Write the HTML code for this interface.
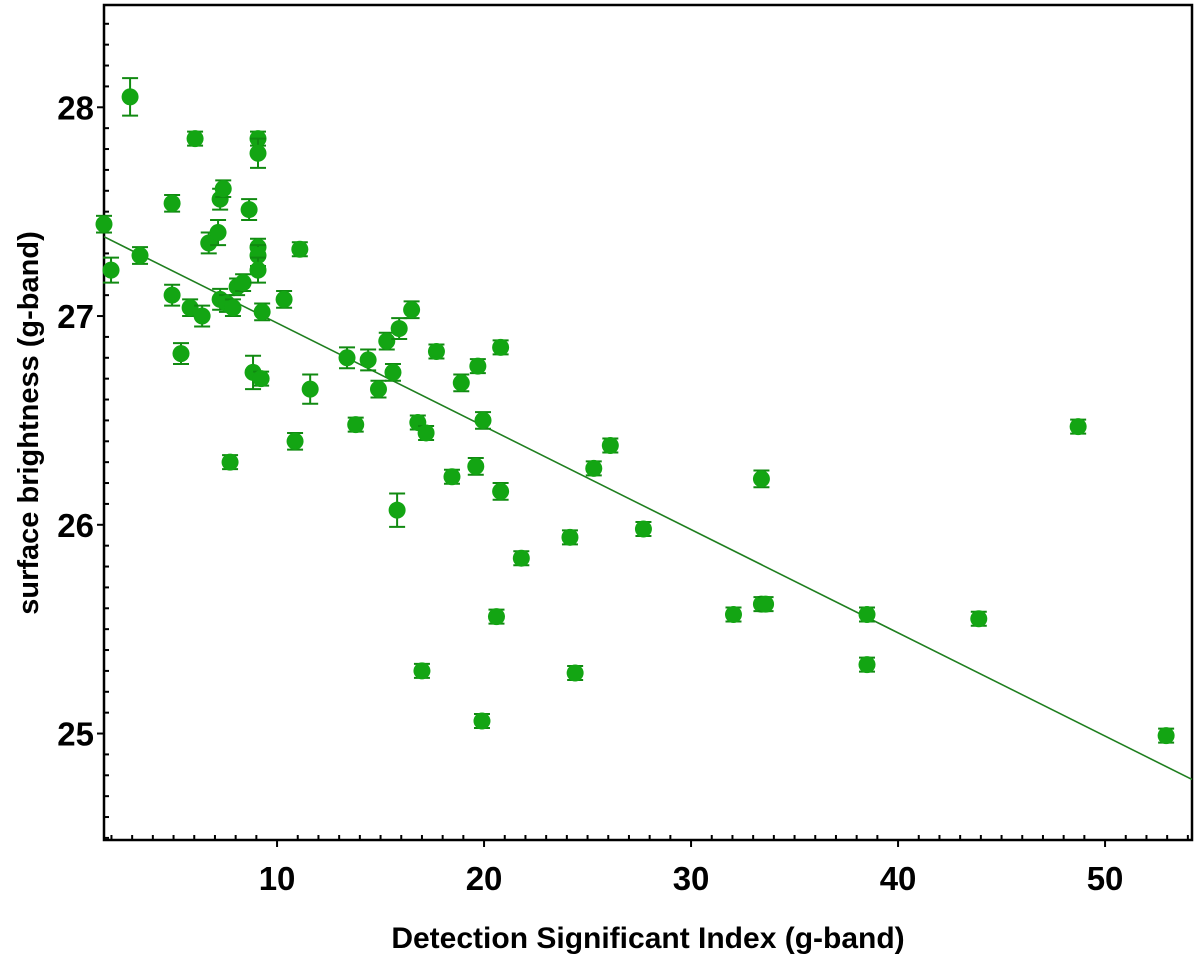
<!DOCTYPE html>
<html><head><meta charset="utf-8"><style>
html,body{margin:0;padding:0;background:#fff;}
svg{display:block;font-family:"Liberation Sans",Arial,sans-serif;}
</style></head><body>
<svg id="chart" width="1200" height="961" viewBox="0 0 1200 961" xmlns="http://www.w3.org/2000/svg">
<g id="plot"></g>
<text x="648" y="948" text-anchor="middle" font-size="30" font-weight="bold" fill="#000">Detection Significant Index (g-band)</text>
<text transform="translate(38,423) rotate(-90)" text-anchor="middle" font-size="29" font-weight="bold" fill="#000">surface brightness (g-band)</text>
</svg>
<script>
const xVals=[1.64,1.98,2.9,3.38,4.93,4.93,5.36,6.04,5.8,6.38,6.7,7.15,7.25,7.4,7.25,7.58,7.73,7.87,8.07,8.36,8.65,8.84,9.08,9.08,9.08,9.08,9.08,9.28,9.23,10.34,10.87,11.1,11.6,13.38,13.8,14.4,14.9,15.3,15.6,15.8,15.9,16.5,16.8,17.0,17.2,17.7,18.45,18.9,19.6,19.7,19.95,19.9,20.6,20.8,20.8,21.8,24.15,24.4,25.3,26.1,27.7,32.05,33.4,33.6,33.4,38.5,38.5,43.9,48.7,52.95];
const yVals=[27.44,27.22,28.05,27.29,27.54,27.10,26.82,27.85,27.04,27.00,27.35,27.40,27.56,27.61,27.08,27.06,26.30,27.04,27.14,27.16,27.51,26.73,27.85,27.78,27.33,27.29,27.22,27.02,26.70,27.08,26.40,27.32,26.65,26.80,26.48,26.79,26.65,26.88,26.73,26.07,26.94,27.03,26.49,25.30,26.44,26.83,26.23,26.68,26.28,26.76,26.50,25.06,25.56,26.85,26.16,25.84,25.94,25.29,26.27,26.38,25.98,25.57,25.62,25.62,26.22,25.57,25.33,25.55,26.47,24.99];
const yErr=[0.04,0.06,0.09,0.04,0.04,0.05,0.05,0.03,0.04,0.05,0.05,0.06,0.05,0.04,0.05,0.04,0.02,0.04,0.04,0.04,0.05,0.08,0.03,0.07,0.04,0.05,0.06,0.04,0.03,0.04,0.04,0.03,0.07,0.05,0.02,0.05,0.04,0.04,0.04,0.08,0.05,0.04,0.03,0.02,0.03,0.03,0.03,0.04,0.04,0.03,0.04,0.02,0.02,0.02,0.04,0.02,0.03,0.03,0.03,0.02,0.03,0.02,0.02,0.02,0.04,0.02,0.02,0.02,0.02,0.02];
const fitX=[1.64,54.2];
const fitY=[27.38,24.78];
const xTicks=[10,20,30,40,50];
const yTicks=[25,26,27,28];

const L=104,R=1192,T=5,B=840;
const xMin=1.64,xMax=54.2,yMin=24.49,yMax=28.49;
const sx=v=>L+(v-xMin)/(xMax-xMin)*(R-L);
const sy=v=>B-(v-yMin)/(yMax-yMin)*(B-T);
const NS="http://www.w3.org/2000/svg";
const plot=document.getElementById('plot');
function mk(tag,attrs,parent){const e=document.createElementNS(NS,tag);for(const k in attrs)e.setAttribute(k,attrs[k]);(parent||plot).appendChild(e);return e;}

const frame=mk('rect',{x:L,y:T,width:R-L,height:B-T,fill:'none',stroke:'#000','stroke-width':2.5});



for(let v=2;v<=54;v++){
  const major=v%10===0;
  const t=mk('line',{x1:sx(v),x2:sx(v),y1:B-(major?0:5),y2:B+(major?7:0),stroke:'#000','stroke-width':2});
  
  
}
xTicks.forEach(v=>{
  const t=mk('text',{x:sx(v),y:B+50,'text-anchor':'middle','font-size':33,'font-weight':'bold',fill:'#000'});
  t.textContent=v;
  
  
});
for(let i=25;i<=284;i++){
  const v=i/10;
  if(v<yMin||v>yMax)continue;
  const major=i%10===0;
  const t=mk('line',{x1:L-(major?7:0),x2:L+(major?0:5),y1:sy(v),y2:sy(v),stroke:'#000','stroke-width':2});
  
  
}
yTicks.forEach(v=>{
  const t=mk('text',{x:L-10,y:sy(v)+12,'text-anchor':'end','font-size':33,'font-weight':'bold',fill:'#000'});
  t.textContent=v;
  
  
});

const fit=mk('line',{x1:sx(fitX[0]),y1:sy(fitY[0]),x2:sx(fitX[1]),y2:sy(fitY[1]),stroke:'#1f7f1f','stroke-width':1.6});



xVals.forEach((xv,i)=>{
  const g=mk('g',{});
  
  
  const cx=sx(xv),cy=sy(yVals[i]),e=yErr[i]*(B-T)/(yMax-yMin);
  const top=cy-Math.max(e,7),bot=cy+Math.max(e,7);
  mk('line',{x1:cx,x2:cx,y1:top,y2:bot,stroke:'#118a11','stroke-width':2},g);
  mk('line',{x1:cx-8,x2:cx+8,y1:top,y2:top,stroke:'#118a11','stroke-width':2},g);
  mk('line',{x1:cx-8,x2:cx+8,y1:bot,y2:bot,stroke:'#118a11','stroke-width':2},g);
  mk('circle',{cx:cx,cy:cy,r:8.5,fill:'#13a513'},g);
});
</script>
</body></html>
